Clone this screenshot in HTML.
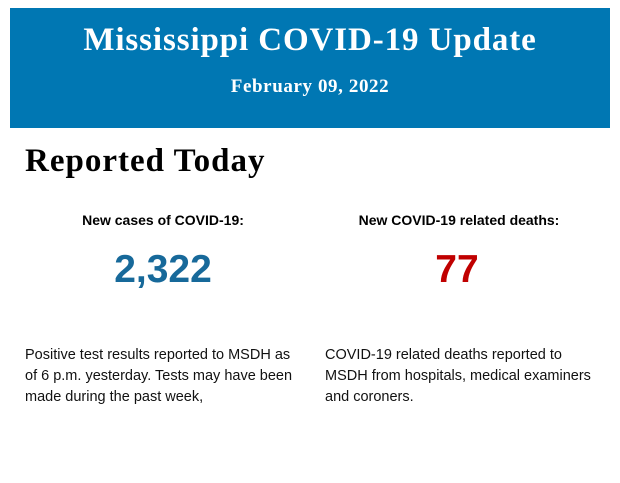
<!DOCTYPE html>
<html><head><meta charset="utf-8"><style>
body{margin:0;width:620px;height:483px;background:#fff;position:relative;overflow:hidden;font-family:"Liberation Sans",sans-serif}
.banner{position:absolute;left:10px;top:8px;width:600px;height:120px;background:#0077b3;color:#fff;font-family:"Liberation Serif",serif;font-weight:bold;text-align:center}
.t{position:absolute;left:0;width:600px;top:14px;font-size:33px;line-height:36px;letter-spacing:0.9px}
.d{position:absolute;left:0;width:600px;top:68px;font-size:19px;line-height:22px;letter-spacing:0.6px}
h1{position:absolute;left:25px;top:143px;margin:0;font-family:"Liberation Serif",serif;font-size:33px;line-height:36px;font-weight:bold;color:#000;letter-spacing:1px}
.lab{position:absolute;top:211px;font-size:14px;font-weight:bold;line-height:18px;text-align:center;width:290px}
.num{position:absolute;top:248px;font-size:39px;font-weight:bold;line-height:44px;text-align:center;width:290px}
.p{position:absolute;top:345px;font-size:14.5px;line-height:21px;color:#111}
</style></head><body>
<div class="banner"><div class="t">Mississippi COVID-19 Update</div><div class="d">February 09, 2022</div></div>
<h1>Reported Today</h1>
<div class="lab" style="left:18px">New cases of COVID-19:</div>
<div class="lab" style="left:314px">New COVID-19 related deaths:</div>
<div class="num" style="left:18px;color:#17699a">2,322</div>
<div class="num" style="left:312px;color:#c00000">77</div>
<div class="p" style="left:25px;width:275px">Positive test results reported to MSDH as of 6 p.m. yesterday. Tests may have been made during the past week,</div>
<div class="p" style="left:325px;width:268px">COVID-19 related deaths reported to MSDH from hospitals, medical examiners and coroners.</div>
</body></html>
